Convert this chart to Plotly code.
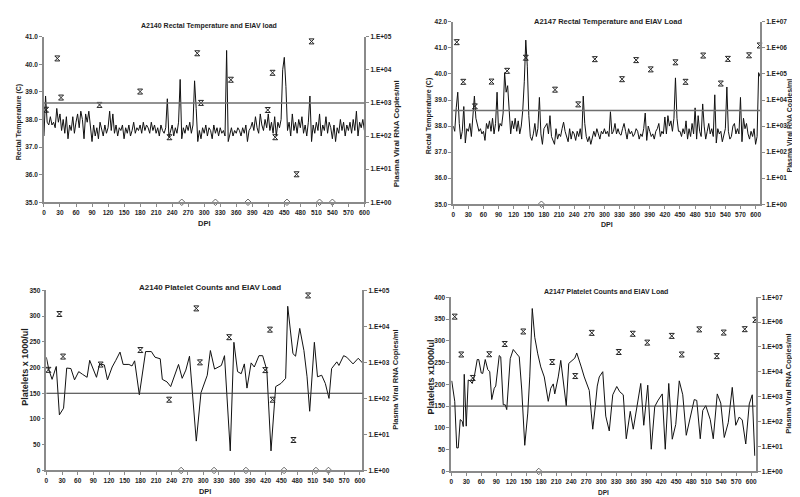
import plotly.graph_objects as go

W, H = 800, 497
FONT = "Liberation Sans, Arial, sans-serif"
TXT = "#1e1e1e"
AX = "#8a8a8a"

# ---------------- DATA ----------------
# A2140 rectal temperature, every 3 DPI from 0 to 600
a2140_temp_dpi = list(range(0, 601, 3))
a2140_temp = [
    37.4, 38.85, 37.9, 37.8, 38.1, 37.8, 37.9, 37.7, 38.4, 37.9,
    38.2, 37.6, 38.0, 37.5, 38.1, 37.3, 37.8, 37.6, 38.1, 37.5,
    37.9, 38.2, 37.7, 38.3, 38.0, 37.3, 38.2, 37.9, 38.3, 37.6,
    37.2, 37.8, 37.4, 37.7, 37.3, 37.9, 37.6, 37.4, 37.8, 37.5,
    37.7, 38.3, 37.6, 38.2, 37.5, 37.8, 37.4, 37.7, 37.6, 37.8,
    37.3, 37.7, 37.5, 37.8, 37.4, 37.6, 37.9, 37.5, 37.7, 37.6,
    37.8, 37.5, 37.9, 37.6, 37.8, 37.7, 37.5, 37.9, 37.6, 37.8,
    37.5, 37.7, 37.4, 37.8, 37.6, 37.5, 37.7, 38.75, 37.35, 37.6,
    37.8, 37.4, 37.7, 37.5, 37.9, 39.45, 37.3, 37.7, 37.5, 37.8,
    37.6, 37.9, 37.5, 37.8, 39.4, 38.4, 37.2, 37.6, 37.3, 37.7,
    37.5, 37.8, 37.4, 37.7, 37.6, 37.3, 37.8, 37.5, 37.7, 37.4,
    37.7, 37.5, 37.6, 37.4, 40.5, 37.2, 37.5, 37.7, 37.4, 37.6,
    37.5, 37.7, 37.6, 37.4, 37.7, 37.5, 37.8, 37.2, 37.6, 37.7,
    37.9, 37.6, 38.1, 37.7, 37.5, 38.2, 37.8, 37.6, 38.0, 37.7,
    38.2, 37.6, 37.9, 37.5, 38.1, 37.4, 37.9, 37.7, 38.0, 39.8,
    40.25, 39.2, 37.6, 37.9, 37.4, 38.2, 37.6, 37.9, 37.5, 38.0,
    37.7, 38.1, 37.5, 37.8, 37.4, 37.9, 38.85, 37.2, 37.8, 37.5,
    37.9, 37.6, 38.2, 37.4, 37.8, 37.6, 38.1, 37.5, 37.9, 37.7,
    37.3, 37.8, 37.2, 37.7, 37.5, 38.0, 37.6, 37.9, 37.4, 37.8,
    37.6, 37.9, 37.5, 38.0, 37.6, 38.3, 37.4, 37.9, 37.7, 38.0,
    37.6,
]

# A2147 rectal temperature, every 3 DPI from 0 to 609
a2147_temp_dpi = list(range(0, 610, 3))
a2147_temp = [
    38.0, 37.8, 38.7, 39.3, 38.1, 37.5, 37.8, 38.75, 37.35, 37.9,
    37.8, 38.1, 37.6, 38.5, 39.15, 38.3, 38.0, 37.8, 37.9, 37.7,
    37.8, 37.45, 38.1, 37.9, 38.2, 37.8, 38.3, 37.7, 38.1, 39.3,
    37.8, 38.1, 38.0, 38.5, 40.05, 39.3, 39.55, 38.4, 37.7, 38.2,
    37.9, 38.3, 37.8, 38.2, 37.7, 38.0, 38.6, 39.7, 41.3, 40.3,
    38.4, 37.6, 37.45, 37.7, 38.1, 37.6, 37.9, 39.1, 37.7, 37.3,
    37.9, 38.0, 38.1, 37.7, 38.4, 37.6, 37.4, 37.3, 37.9, 37.5,
    37.7, 37.6, 37.9, 38.15, 37.8, 37.6, 37.4, 37.9, 37.5, 37.8,
    37.7, 37.45, 37.8, 37.6, 37.9, 37.5, 39.15, 38.1, 37.6, 37.4,
    37.6, 37.3, 37.5, 37.8, 37.6, 37.9, 37.7, 37.5, 37.8, 37.7,
    37.9, 37.7, 37.8, 37.6, 38.55, 37.7, 37.8, 38.1, 37.7, 37.9,
    37.7, 37.65, 37.9, 38.1, 37.8, 37.5, 37.9, 37.7, 37.8, 37.6,
    37.7, 37.9, 37.8, 37.5, 37.7, 37.6, 37.9, 38.5, 37.45, 38.0,
    37.8, 37.6, 37.7, 37.5, 37.8, 37.9, 38.1, 37.6, 37.8, 37.7,
    38.35, 37.7, 38.4, 38.0, 38.2, 37.8, 38.3, 39.85, 38.3, 37.8,
    37.8, 37.6, 37.9, 37.7, 38.2, 37.5, 37.9, 37.6, 38.1, 37.7,
    38.7, 37.5, 38.4, 37.8, 37.6, 38.85, 38.0, 37.5, 37.8, 38.1,
    37.7, 37.9, 37.6, 39.2, 37.35, 37.9, 37.7, 37.8, 37.4, 37.6,
    37.9, 39.5, 37.8, 37.5, 37.6, 38.0, 38.1, 37.7, 37.9, 37.7,
    39.1, 37.4, 38.3, 37.9, 38.1, 37.7, 37.5, 37.8, 37.6, 37.9,
    37.3, 37.6, 40.05, 39.9,
]

# A2140 platelet counts (x1000/ul)
a2140_plt_dpi = [0, 5, 11, 19, 25, 33, 39, 47, 54, 62, 69, 78, 83, 96, 102, 111, 117,
                 126, 133, 141, 147, 158, 164, 169, 178, 190, 201, 208, 218, 222, 231,
                 238, 253, 260, 267, 274, 287, 296, 308, 314, 322, 335, 341, 352, 359,
                 366, 373, 379, 384, 392, 398, 407, 414, 422, 430, 439, 449, 458, 462,
                 472, 477, 485, 493, 499, 504, 513, 519, 527, 534, 541, 546, 556, 560,
                 569, 575, 587, 597, 605]
a2140_plt = [220, 195, 177, 202, 108, 121, 199, 198, 176, 192, 187, 181, 214, 181, 207,
             205, 176, 201, 214, 230, 206, 206, 203, 213, 147, 231, 231, 220, 217, 177,
             172, 163, 206, 179, 195, 222, 57, 151, 185, 233, 197, 204, 223, 38, 249,
             192, 188, 207, 160, 209, 201, 223, 223, 195, 38, 163, 169, 179, 319, 227,
             222, 276, 233, 182, 115, 249, 182, 185, 169, 140, 198, 211, 204, 223, 220,
             207, 218, 209]

# A2147 platelet counts (x1000/ul)
a2147_plt_dpi = [1, 7, 11, 14, 18, 22, 24, 26, 30, 34, 38, 42, 46, 52, 55, 60, 63, 68,
                 73, 77, 81, 86, 89, 96, 99, 104, 108, 111, 118, 124, 131, 136, 141,
                 147, 153, 157, 162, 167, 173, 179, 186, 189, 194, 199, 204, 207, 214,
                 219, 230, 235, 241, 247, 251, 255, 260, 266, 273, 276, 280, 283, 288,
                 292, 296, 303, 309, 316, 323, 331, 337, 344, 350, 358, 364, 379, 385,
                 393, 400, 407, 413, 422, 428, 435, 442, 449, 456, 463, 470, 478, 486,
                 491, 498, 503, 509, 518, 524, 532, 539, 546, 554, 562, 569, 576, 582,
                 589, 596, 602, 607]
a2147_plt = [208, 161, 54, 54, 119, 115, 103, 223, 104, 210, 208, 202, 217, 257, 257,
             226, 225, 257, 234, 229, 165, 191, 196, 266, 263, 153, 153, 142, 259, 280,
             270, 263, 187, 60, 134, 217, 374, 308, 270, 240, 217, 195, 161, 191, 201,
             178, 217, 255, 151, 248, 254, 260, 272, 259, 240, 217, 195, 186, 134, 97,
             149, 196, 217, 229, 127, 93, 176, 195, 183, 176, 75, 138, 97, 202, 106,
             198, 51, 149, 162, 178, 51, 202, 74, 108, 208, 176, 83, 127, 165, 163, 75,
             140, 151, 119, 75, 178, 157, 78, 112, 193, 106, 125, 118, 63, 155, 176, 36]

# Plasma viral RNA (copies/ml)
a2140_vl_dpi = [4, 25, 32, 104, 180, 235, 287, 294, 350, 419, 428, 433, 473, 501]
a2140_vl = [620, 22000, 1450, 870, 2200, 92, 31500, 1000, 5000, 610, 8100, 92, 7, 72000]
a2140_undet_dpi = [258, 321, 382, 455, 516, 540]

a2147_vl_dpi = [7, 20, 43, 76, 107, 144, 202, 248, 281, 335, 363, 392, 441, 461, 496,
                531, 545, 587, 608]
a2147_vl = [1.66e6, 5.0e4, 5.7e3, 5.1e4, 1.32e5, 4.2e5, 2.5e4, 6.8e3, 3.7e5, 6.3e4,
            3.4e5, 1.5e5, 2.8e5, 5.0e4, 5.1e5, 4.3e4, 3.8e5, 5.2e5, 1.24e6]
a2147_undet_dpi = [175]
undetectable_copies = 1

fever_threshold = 38.6
platelet_threshold = 150

x_ticks = list(range(0, 601, 30))
log_ticks_5 = [1, 10, 100, 1000, 10000, 100000]
log_labels_5 = ["1.E+00", "1.E+01", "1.E+02", "1.E+03", "1.E+04", "1.E+05"]
log_ticks_7 = [1, 10, 100, 1000, 10000, 100000, 1000000, 10000000]
log_labels_7 = ["1.E+00", "1.E+01", "1.E+02", "1.E+03", "1.E+04", "1.E+05", "1.E+06", "1.E+07"]

# ---------------- FIGURE ----------------
def dom_x(a, b):
    return [a / W, b / W]

def dom_y(top, bottom):
    return [1 - bottom / H, 1 - top / H]

panels = [
    dict(x="x", yl="y", yr="y2", xd=(34.3, 358.0), yd=(25, 193), xmax=600,
         ylr=[35, 41], dt=1, fmt=".1f", lmax=5),
    dict(x="x2", yl="y3", yr="y4", xd=(447.7, 757.7), yd=(10, 195), xmax=609,
         ylr=[35, 42], dt=1, fmt=".1f", lmax=7),
    dict(x="x3", yl="y5", yr="y6", xd=(36.7, 356.0), yd=(282.3, 465), xmax=605,
         ylr=[0, 350], dt=50, fmt="d", lmax=5),
    dict(x="x4", yl="y7", yr="y8", xd=(445.7, 753.3), yd=(289.3, 466), xmax=609,
         ylr=[0, 400], dt=50, fmt="d", lmax=7),
]

fig = go.Figure()

series = [
    (a2140_temp_dpi, a2140_temp, a2140_vl_dpi, a2140_vl, a2140_undet_dpi, fever_threshold),
    (a2147_temp_dpi, a2147_temp, a2147_vl_dpi, a2147_vl, a2147_undet_dpi, fever_threshold),
    (a2140_plt_dpi, a2140_plt, a2140_vl_dpi, a2140_vl, a2140_undet_dpi, platelet_threshold),
    (a2147_plt_dpi, a2147_plt, a2147_vl_dpi, a2147_vl, a2147_undet_dpi, platelet_threshold),
]

for p, (lx, ly, vx, vy, ux, th) in zip(panels, series):
    fig.add_trace(go.Scatter(x=lx, y=ly, mode="lines", xaxis=p["x"], yaxis=p["yl"],
                             line=dict(color="#111111", width=1), showlegend=False))
    fig.add_trace(go.Scatter(x=vx, y=vy, mode="markers", xaxis=p["x"], yaxis=p["yr"],
                             marker=dict(symbol="hourglass-open", size=5, color="#222222",
                                         line=dict(width=1, color="#222222")),
                             showlegend=False, cliponaxis=False))
    fig.add_trace(go.Scatter(x=ux, y=[undetectable_copies] * len(ux), mode="markers",
                             xaxis=p["x"], yaxis=p["yr"],
                             marker=dict(symbol="diamond-open", size=5, color="#444444",
                                         line=dict(width=0.8, color="#444444")),
                             showlegend=False, cliponaxis=False))
    fig.add_shape(type="line", xref=p["x"] + " domain", x0=0, x1=1,
                  yref=p["yl"], y0=th, y1=th,
                  line=dict(color="#6e6e6e" if th == fever_threshold else "#333333",
                            width=1.5 if th == fever_threshold else 1))

tickfont = dict(family=FONT, size=6.5, color=TXT, weight="bold")
layout = dict(width=W, height=H, margin=dict(l=0, r=0, t=0, b=0),
              paper_bgcolor="white", plot_bgcolor="white", showlegend=False)

for i, p in enumerate(panels):
    xk = "xaxis" if i == 0 else "xaxis%d" % (i + 1)
    ylk = "yaxis" if p["yl"] == "y" else "yaxis" + p["yl"][1:]
    yrk = "yaxis" + p["yr"][1:]
    layout[xk] = dict(domain=dom_x(*p["xd"]), range=[0, p["xmax"]], anchor=p["yl"],
                      tickvals=x_ticks, showline=True, linecolor=AX, linewidth=1.5,
                      ticks="outside", ticklen=3, tickcolor=AX, showgrid=False,
                      zeroline=False, tickfont=tickfont)
    layout[ylk] = dict(domain=dom_y(*p["yd"]), range=p["ylr"], anchor=p["x"],
                       dtick=p["dt"], tick0=0, tickformat=p["fmt"], showline=True,
                       linecolor=AX, linewidth=1.5, ticks="outside", ticklen=3,
                       tickcolor=AX, showgrid=False, zeroline=False, tickfont=tickfont)
    ticks = log_ticks_5 if p["lmax"] == 5 else log_ticks_7
    labels = log_labels_5 if p["lmax"] == 5 else log_labels_7
    layout[yrk] = dict(type="log", range=[0, p["lmax"]], overlaying=p["yl"], side="right",
                       anchor=p["x"], tickvals=ticks, ticktext=labels, showline=True,
                       linecolor=AX, linewidth=1.5, ticks="outside", ticklen=3,
                       tickcolor=AX, showgrid=False, zeroline=False, tickfont=tickfont)

fig.update_layout(**layout)

def ann(text, x, y, size, angle=0):
    fig.add_annotation(text=text, x=x / W, y=1 - y / H, xref="paper", yref="paper",
                       showarrow=False, textangle=angle, xanchor="center", yanchor="middle",
                       font=dict(family=FONT, size=size, color=TXT, weight="bold"))

ann("A2140 Rectal Temperature and EIAV load", 201, 14, 7)
ann("Rectal Temperature (C)", 10, 111, 7, -90)
ann("Plasma Viral RNA Copies/ml", 390, 124, 8, -90)
ann("DPI", 196, 215, 7.5)

ann("A2147 Rectal Temperature and EIAV Load", 605, 9.5, 7.5)
ann("Rectal Temperature (C)", 423, 105, 7, -90)
ann("Plasma Viral RNA Copies/ml", 788, 115, 7, -90)
ann("DPI", 603, 216, 7)

ann("A2140 Platelet Counts and EIAV Load", 202, 279, 8)
ann("Platelets x 1000/ul", 15, 360, 9, -90)
ann("Plasma Viral RNA Copies/ml", 390, 373, 7.5, -90)
ann("DPI", 197, 486, 7.4)

ann("A2147 Platelet Counts and EIAV Load", 602, 283, 7)
ann("Platelets x1000/ul", 425, 370, 9, -90)
ann("Plasma Viral RNA Copies/ml", 787, 377, 7.5, -90)
ann("DPI", 599, 487, 6.5)

fig.write_html("out.html")
